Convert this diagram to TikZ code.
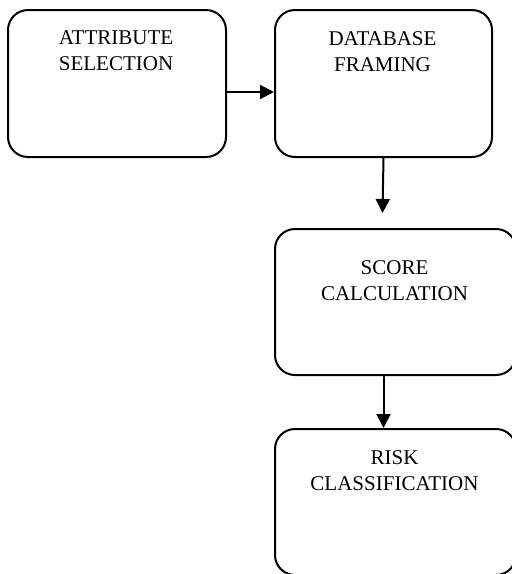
\documentclass[tikz,border=0pt]{standalone}
\usepackage{fontspec}
\setmainfont{Liberation Serif}
\usetikzlibrary{arrows.meta}
\begin{document}
\begin{tikzpicture}[x=1pt,y=-1pt,
  stepbox/.style={draw=black, line width=2pt, rounded corners=20pt, inner sep=0pt, anchor=north west},
  lbl/.style={align=center, inner sep=0pt, anchor=base, font=\fontsize{21pt}{26pt}\selectfont},
  conn/.style={line width=2pt, -{Triangle[length=14pt,width=14pt]}}]
\useasboundingbox (0,0) rectangle (512,574);
\clip (0,0) rectangle (512,574);
\fill[white] (0,0) rectangle (512,574);
\node[stepbox, minimum width=218pt, minimum height=147pt] (b1) at (7,9) {};
\node[stepbox, minimum width=217pt, minimum height=147pt] (b2) at (274,9) {};
\node[stepbox, minimum width=241pt, minimum height=146pt] (b3) at (274,228) {};
\node[stepbox, minimum width=241pt, minimum height=146pt] (b4) at (274,428) {};
\node[lbl] (t1) at (116,70) {ATTRIBUTE\\SELECTION};
\node[lbl] (t2) at (382.5,71) {DATABASE\\FRAMING};
\node[lbl] (t3) at (394.5,300) {SCORE\\CALCULATION};
\node[lbl] (t4) at (394.5,490) {RISK\\CLASSIFICATION};
\coordinate (a2end) at (382.5,213);
\draw[conn] (b1.east |- 0,92) -- (b2.west |- 0,92);
\draw[conn] (b2.south) -- (a2end);
\draw[conn] (b3.south -| b2.south) -- (b4.north -| b2.south);
\end{tikzpicture}
\end{document}
